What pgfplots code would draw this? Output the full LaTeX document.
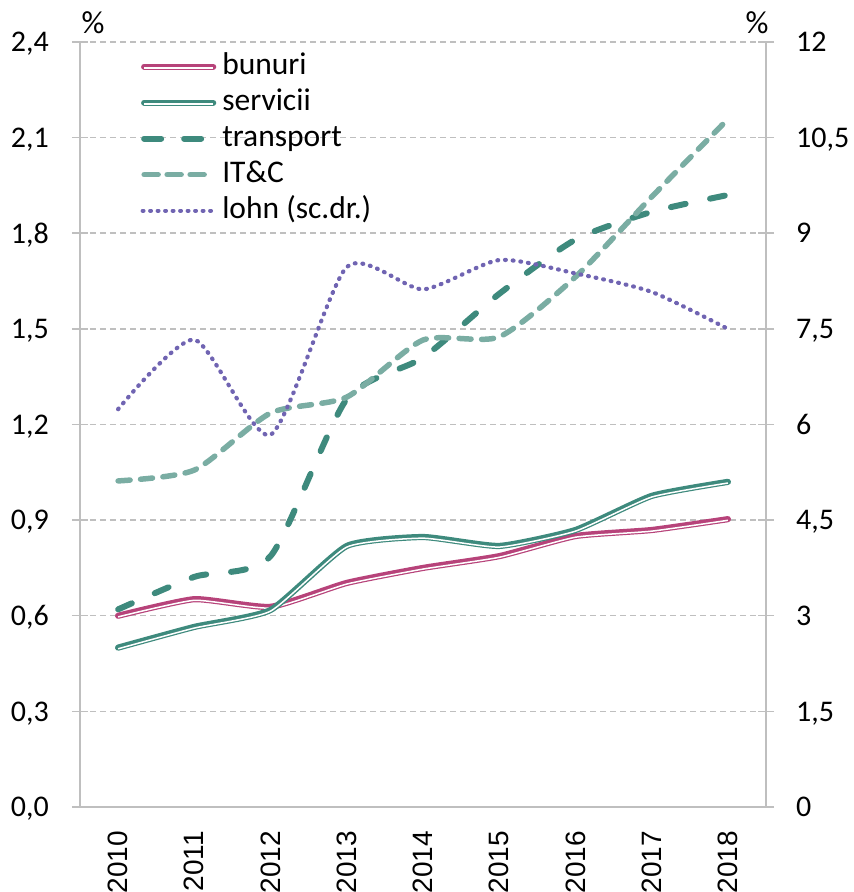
\documentclass[border=0pt]{standalone}
\usepackage{fontspec}
\setmainfont{Carlito}
\newfontfamily\arialfont{Liberation Sans}
\usepackage{pgfplots}
\usepackage{pgfplotstable}
\pgfplotsset{compat=1.18}
\definecolor{cbun}{RGB}{183,67,122}
\definecolor{cserv}{RGB}{62,138,125}
\definecolor{ctrans}{RGB}{62,138,125}
\definecolor{cit}{RGB}{122,173,163}
\definecolor{clohn}{RGB}{112,100,178}
\definecolor{cgrid}{RGB}{191,191,191}

\pgfplotstableread{
x bun serv trans it lohn
0 0.600 0.500 0.620 1.023 6.24
1 0.652 0.565 0.722 1.057 7.33
2 0.628 0.618 0.787 1.236 5.84
3 0.703 0.819 1.280 1.286 8.47
4 0.750 0.847 1.410 1.465 8.12
5 0.787 0.819 1.610 1.475 8.58
6 0.850 0.869 1.780 1.663 8.37
7 0.869 0.976 1.867 1.914 8.08
8 0.903 1.020 1.920 2.158 7.50
}\data

\newcommand\bigf{\fontsize{30}{36}\selectfont}
\newcommand\legf{\fontsize{31.5}{36}\selectfont}

\begin{document}
\begin{tikzpicture}
\path[use as bounding box] (-80pt,-85pt) rectangle (774pt,807pt);
\begin{axis}[
  name=ax,
  scale only axis, width=686pt, height=765pt,
  at={(0pt,0pt)}, anchor=south west,
  xmin=-0.5, xmax=8.5, ymin=0, ymax=2.4,
  axis x line*=bottom, axis y line*=left,
  axis line style={cgrid, line width=1.5pt},
  xtick={0,1,2,3,4,5,6,7,8},
  xticklabels={2010,2011,2012,2013,2014,2015,2016,2017,2018},
  xtick style={draw=none},
  xticklabel style={font=\arialfont\fontsize{28}{34}\selectfont, rotate=90, anchor=east, inner sep=0pt},
  xticklabel shift=16pt,
  ytick={0,0.3,0.6,0.9,1.2,1.5,1.8,2.1,2.4},
  yticklabels={{0,0},{0,3},{0,6},{0,9},{1,2},{1,5},{1,8},{2,1},{2,4}},
  yticklabel style={font=\bigf, anchor=east, inner sep=0pt, text depth=0pt},
  yticklabel shift=23pt,
  tick align=center, major tick length=16pt,
  ytick style={cgrid, line width=1.5pt},
  ymajorgrids,
  major grid style={cgrid, line width=1.5pt, dash pattern=on 6pt off 4pt},
  legend style={at={(rel axis cs:0.088,0.987)}, anchor=north west, draw=none, fill=none,
    inner sep=0pt, font=\legf, row sep=7pt, column sep=5pt,
    nodes={inner sep=0pt, text height=22pt, text depth=7pt}},
  legend cell align=left,
]
\addplot[forget plot, cbun, line width=6.2pt, line cap=round, line join=round, smooth, tension=0.3] table[x=x,y=bun]{\data};
\addplot[forget plot, white, line width=1.5pt, line join=round, smooth, tension=0.3, yshift=-1.15pt] table[x=x,y=bun]{\data};
\addplot[forget plot, cserv, line width=6.2pt, line cap=round, line join=round, smooth, tension=0.3] table[x=x,y=serv]{\data};
\addplot[forget plot, white, line width=1.5pt, line join=round, smooth, tension=0.3, yshift=-1.15pt] table[x=x,y=serv]{\data};
\addplot[forget plot, ctrans, line width=6pt, line cap=round, dash pattern=on 15pt off 25pt, smooth, tension=0.4] table[x=x,y=trans]{\data};
\addplot[forget plot, cit, line width=5.5pt, line cap=round, dash pattern=on 12pt off 10.5pt, smooth, tension=0.4] table[x=x,y=it]{\data};

\addlegendimage{legend image code/.code={
  \draw[cbun, line width=6.2pt, line cap=round] (3pt,0pt) -- (72pt,0pt);
  \draw[white, line width=1.5pt] (3pt,-1.15pt) -- (72pt,-1.15pt);}}
\addlegendentry{bunuri}
\addlegendimage{legend image code/.code={
  \draw[cserv, line width=6.2pt, line cap=round] (3pt,0pt) -- (72pt,0pt);
  \draw[white, line width=1.5pt] (3pt,-1.15pt) -- (72pt,-1.15pt);}}
\addlegendentry{servicii}
\addlegendimage{legend image code/.code={
  \draw[ctrans, line width=6pt, line cap=round, dash pattern=on 17pt off 23pt] (3pt,0pt) -- (72pt,0pt);}}
\addlegendentry{transport}
\addlegendimage{legend image code/.code={
  \draw[cit, line width=5.5pt, line cap=round, dash pattern=on 14pt off 9pt] (3pt,0pt) -- (72pt,0pt);}}
\addlegendentry{IT\&C}
\addlegendimage{legend image code/.code={
  \draw[clohn, line width=4.2pt, line cap=round, dash pattern=on 0.8pt off 6.7pt] (1.5pt,0pt) -- (74pt,0pt);}}
\addlegendentry{lohn (sc.dr.)}
\end{axis}
\begin{axis}[
  scale only axis, width=686pt, height=765pt,
  at={(0pt,0pt)}, anchor=south west,
  xmin=-0.5, xmax=8.5, ymin=0, ymax=12,
  axis x line=none, axis y line*=right,
  axis line style={cgrid, line width=1.5pt},
  ytick={0,1.5,3,4.5,6,7.5,9,10.5,12},
  yticklabels={0,{1,5},3,{4,5},6,{7,5},9,{10,5},12},
  yticklabel style={font=\bigf, anchor=west, inner sep=0pt, text depth=0pt},
  yticklabel shift=22pt,
  tick align=center, major tick length=16pt,
  ytick style={cgrid, line width=1.5pt},
]
\addplot[clohn, line width=4.2pt, line cap=round, dash pattern=on 0.8pt off 6.9pt, smooth, tension=0.4] table[x=x,y=lohn]{\data};
\end{axis}
\node[font=\fontsize{32}{36}\selectfont, inner sep=0pt] at ([xshift=13pt, yshift=19pt]ax.north west) {\%};
\node[font=\fontsize{32}{36}\selectfont, inner sep=0pt] at ([xshift=-9pt, yshift=19pt]ax.north east) {\%};
\end{tikzpicture}
\end{document}
